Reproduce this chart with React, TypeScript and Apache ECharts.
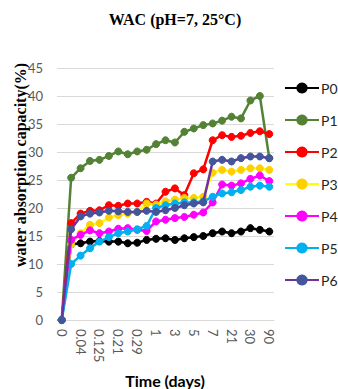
import React, { useEffect, useRef } from "react";
import * as echarts from "echarts";

// Sampling times (days); every other one carries a printed tick label
const times = [
  "0", "0.02", "0.04", "0.08", "0.125", "0.17", "0.21", "0.25", "0.29", "0.5",
  "1", "2", "3", "4", "5", "6", "7", "14", "21", "25", "30", "60", "90",
];

const p0 = [0, 13.5, 13.7, 14.0, 14.1, 14.0, 14.0, 13.7, 13.8, 14.3, 14.5, 14.6, 14.3, 14.6, 14.8, 15.0, 15.5, 15.8, 15.5, 15.8, 16.4, 16.1, 15.8];
const p1 = [0, 25.4, 27.1, 28.4, 28.6, 29.3, 30.1, 29.6, 30.1, 30.4, 31.4, 32.1, 31.7, 33.6, 34.2, 34.8, 35.1, 35.6, 36.3, 36.0, 39.2, 40.0, 28.9];
const p2 = [0, 17.3, 19.0, 19.5, 19.6, 20.5, 20.4, 20.8, 20.8, 21.1, 20.8, 22.9, 23.5, 22.3, 26.2, 26.9, 32.1, 33.0, 32.7, 32.9, 33.4, 33.7, 33.2];
const p3 = [0, 13.5, 15.5, 17.0, 17.3, 18.3, 18.7, 19.0, 19.3, 20.8, 20.6, 21.2, 21.5, 21.8, 21.8, 22.0, 26.3, 26.8, 26.5, 26.8, 27.1, 27.1, 26.8];
const p4 = [0, 14.3, 15.2, 16.0, 15.5, 15.8, 16.3, 16.4, 16.1, 15.9, 17.6, 17.9, 18.2, 18.4, 18.8, 19.2, 21.0, 24.2, 24.0, 24.4, 25.2, 25.8, 24.8];
const p5 = [0, 10.0, 11.5, 12.8, 14.0, 14.8, 15.5, 15.8, 16.2, 16.8, 20.0, 20.5, 20.8, 21.0, 21.0, 21.2, 22.0, 22.6, 22.8, 23.2, 23.8, 24.0, 23.8];
const p6 = [0, 16.2, 18.5, 19.0, 19.2, 19.5, 19.4, 19.3, 19.3, 19.5, 19.3, 19.6, 20.0, 20.5, 20.8, 21.0, 28.3, 28.6, 28.3, 28.9, 29.2, 29.2, 28.9];

const seriesNames = ["P0", "P1", "P2", "P3", "P4", "P5", "P6"];
const seriesValues = [p0, p1, p2, p3, p4, p5, p6];
const lineColors = ["#000000", "#548235", "#ff0000", "#ffff00", "#ff00ff", "#00b0f0", "#7030a0"];
const markerColors = ["#000000", "#548235", "#ff0000", "#ffd000", "#ff00ff", "#00b0f0", "#41569b"];

const yTicks = { min: 0, max: 45, interval: 5 };

export default function App() {
  const ref = useRef<HTMLDivElement>(null);

  useEffect(() => {
    if (!ref.current) return;
    const chart = echarts.init(ref.current, null, { renderer: "svg" });
    chart.setOption({
      animation: false,
      backgroundColor: "#ffffff",
      title: {
        text: "WAC (pH=7, 25°C)",
        left: 175,
        top: 11,
        padding: 0,
        textAlign: "center",
        textStyle: {
          fontFamily: "Liberation Serif",
          fontWeight: "bold",
          fontSize: 16,
          color: "#000000",
        },
      },
      grid: { left: 57, right: 64, top: 68, bottom: 69 },
      legend: {
        orient: "vertical",
        left: 284,
        top: 81,
        padding: 0,
        itemWidth: 34,
        itemHeight: 14,
        itemGap: 18,
        data: seriesNames,
        textStyle: { fontFamily: "Lato", fontSize: 14, color: "#262626", padding: [0, 0, 0, -3] },
      },
      xAxis: {
        type: "category",
        data: times,
        boundaryGap: true,
        axisLine: { show: true, lineStyle: { color: "#d9d9d9", width: 1 } },
        axisTick: { show: false },
        axisLabel: {
          interval: 1,
          rotate: -90,
          margin: 9,
          fontFamily: "Lato",
          fontSize: 13,
          color: "#595959",
        },
      },
      yAxis: {
        type: "value",
        min: yTicks.min,
        max: yTicks.max,
        interval: yTicks.interval,
        axisLine: { show: false },
        axisTick: { show: false },
        splitLine: { lineStyle: { color: "#d9d9d9", width: 1 } },
        axisLabel: {
          margin: 14,
          fontFamily: "Lato",
          fontSize: 13,
          color: "#595959",
        },
      },
      graphic: [
        {
          type: "text",
          x: 20,
          y: 165,
          rotation: Math.PI / 2,
          style: {
            text: "water absorption capacity(%)",
            fontFamily: "Liberation Serif",
            fontWeight: "bold",
            fontSize: 16,
            fill: "#000000",
            align: "center",
            verticalAlign: "middle",
          },
        },
        {
          type: "text",
          x: 165,
          y: 380,
          style: {
            text: "Time (days)",
            fontFamily: "Lato",
            fontWeight: "bold",
            fontSize: 16,
            fill: "#000000",
            align: "center",
            verticalAlign: "middle",
          },
        },
      ],
      series: seriesNames.map((name, i) => ({
        name,
        type: "line",
        data: seriesValues[i],
        symbol: "circle",
        symbolSize: 7,
        showAllSymbol: true,
        lineStyle: { color: lineColors[i], width: 2.5 },
        itemStyle: { color: markerColors[i], borderColor: markerColors[i] },
        emphasis: { disabled: true },
        z: 2 + i,
      })),
    });
    return () => chart.dispose();
  }, []);

  return (
    <div
      ref={ref}
      style={{ position: "fixed", left: 0, top: 0, width: 338, height: 389 }}
    />
  );
}
